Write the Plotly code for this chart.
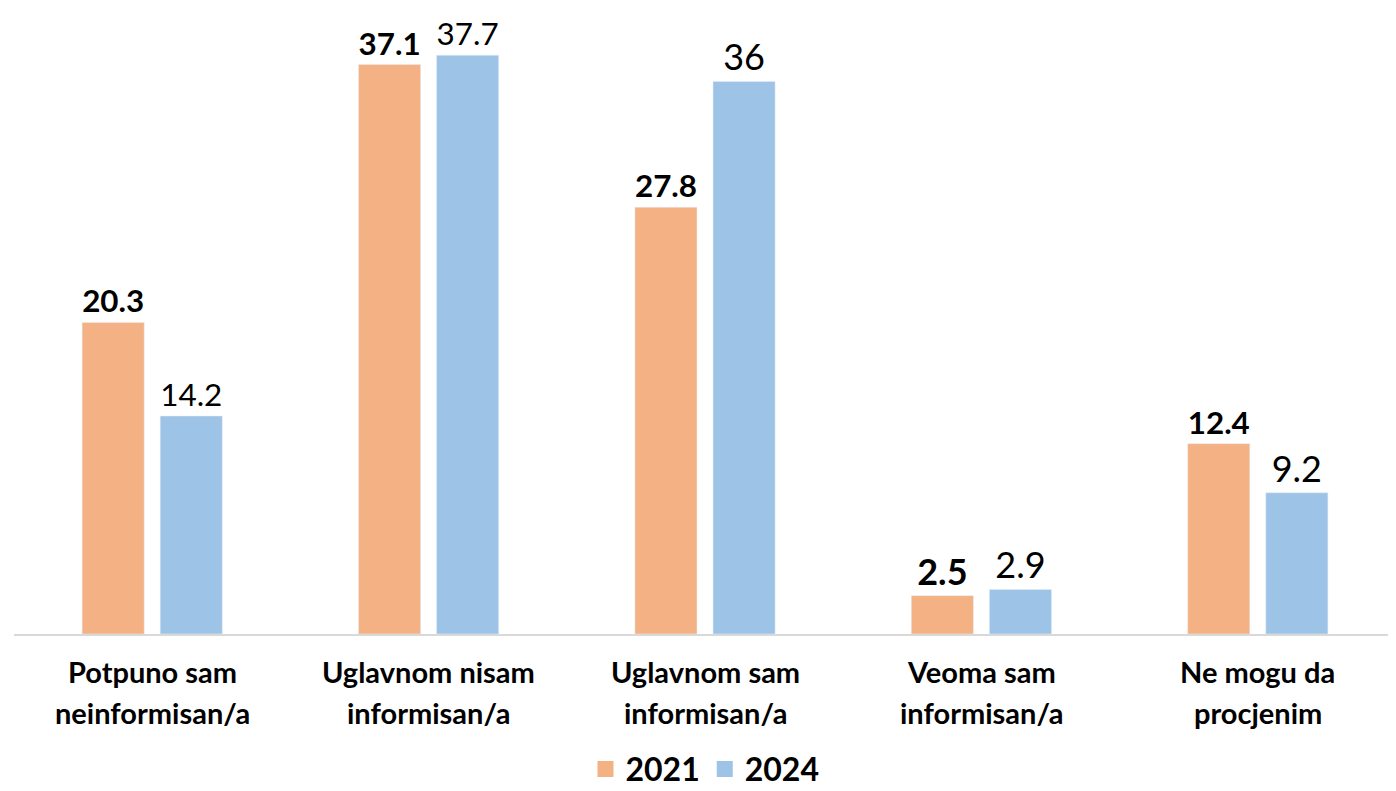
import plotly.graph_objects as go

categories = ["Potpuno sam neinformisan/a", "Uglavnom nisam informisan/a",
              "Uglavnom sam informisan/a", "Veoma sam informisan/a",
              "Ne mogu da procjenim"]
label_line1 = ["Potpuno sam", "Uglavnom nisam", "Uglavnom sam", "Veoma sam", "Ne mogu da"]
label_line2 = ["neinformisan/a", "informisan/a", "informisan/a", "informisan/a", "procjenim"]
vals_2021 = [20.3, 37.1, 27.8, 2.5, 12.4]
vals_2024 = [14.2, 37.7, 36, 2.9, 9.2]
labels_2021 = ["20.3", "37.1", "27.8", "2.5", "12.4"]
labels_2024 = ["14.2", "37.7", "36", "2.9", "9.2"]
series_names = ["2021", "2024"]
colors = ["#F4B183", "#9DC3E6"]

FONT = "Lato"

fig = go.Figure()
fig.add_trace(go.Bar(
    x=categories, y=vals_2021, name="2021", marker_color=colors[0], showlegend=False,
    text=["<b>%s</b>" % t for t in labels_2021], textposition="outside",
    textfont=dict(family=FONT, size=36, color="black"), cliponaxis=False,
))
fig.add_trace(go.Bar(
    x=categories, y=vals_2024, name="2024", marker_color=colors[1], showlegend=False,
    text=labels_2024, textposition="outside",
    textfont=dict(family=FONT, size=36, color="black"), cliponaxis=False,
))
# legend entries with bigger square swatches
for name, col in zip(series_names, colors):
    fig.add_trace(go.Scatter(x=[None], y=[None], mode="markers", name=name,
                             marker=dict(symbol="square", size=21, color=col)))

# two-line category labels
for cat, l1, l2 in zip(categories, label_line1, label_line2):
    for txt, shift in ((l1, -37), (l2, -78)):
        fig.add_annotation(x=cat, xref="x", y=0, yref="paper", yshift=shift,
                           text=txt, showarrow=False, yanchor="middle",
                           font=dict(family=FONT, size=29, weight="bold", color="black"))

# page body adds an 8px margin, so the figure is sized to fit inside it
fig.update_layout(
    width=1388, height=783,
    barmode="group", bargap=0.435, bargroupgap=0.205,
    plot_bgcolor="white", paper_bgcolor="white",
    margin=dict(l=6, r=0, t=12, b=157, autoexpand=False),
    font=dict(family=FONT, color="black"),
    showlegend=True,
    legend=dict(orientation="h", x=0.5, xanchor="center", y=-0.22, yanchor="middle",
                font=dict(family=FONT, size=32, weight="bold"),
                itemsizing="trace", tracegroupgap=0),
)
fig.update_xaxes(showline=True, linecolor="#D9D9D9", linewidth=2, ticks="",
                 showticklabels=False)
fig.update_yaxes(range=[0, 40], visible=False, showgrid=False)

fig.write_html("out.html")
